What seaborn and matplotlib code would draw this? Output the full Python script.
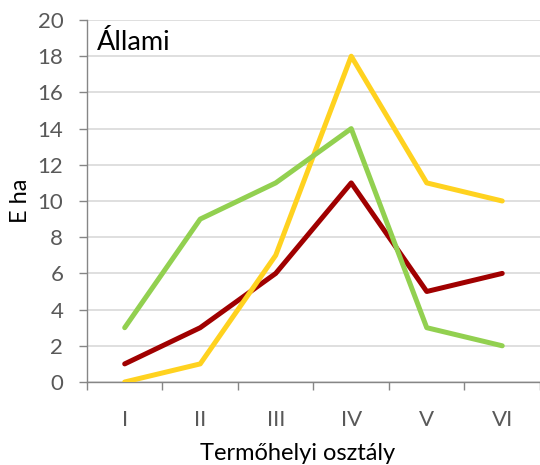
import numpy as np
import matplotlib.pyplot as plt
import pandas as pd
import seaborn as sns
from matplotlib.ticker import FixedLocator, MultipleLocator

# Data
categories = ["I", "II", "III", "IV", "V", "VI"]
red_vals = [1, 3, 6, 11, 5, 6]
yellow_vals = [0, 1, 7, 18, 11, 10]
green_vals = [3, 9, 11, 14, 3, 2]

df = pd.DataFrame({
    "pos": np.tile(np.arange(len(categories)), 3),
    "value": red_vals + yellow_vals + green_vals,
    "series": ["red"] * 6 + ["yellow"] * 6 + ["green"] * 6,
})

sns.set_style("white")
plt.rcParams["font.family"] = ["Lato", "DejaVu Sans"]

fig = plt.figure(figsize=(5.4, 4.65), dpi=100)
ax = fig.add_axes([0.161, 0.1785, 0.839, 0.7785])

palette = {"red": "#A00000", "yellow": "#FFD21F", "green": "#92D050"}
sns.lineplot(data=df, x="pos", y="value", hue="series", palette=palette,
             linewidth=3.6, legend=False, ax=ax, zorder=3)
for line in ax.get_lines():
    line.set_solid_capstyle("round")
    line.set_solid_joinstyle("round")

ax.set_xlim(-0.5, 5.5)
ax.set_ylim(0, 20)

# y axis
ax.yaxis.set_major_locator(MultipleLocator(2))
ax.grid(axis="y", color="#D9D9D9", linewidth=1.2, zorder=0)
ax.tick_params(axis="y", which="major", direction="out", length=6, width=1,
               color="#868686", labelsize=16, labelcolor="#595959", pad=11, left=True)

# x axis: ticks between categories, labels in the middle
ax.xaxis.set_major_locator(FixedLocator(np.arange(-0.5, 6, 1)))
ax.xaxis.set_minor_locator(FixedLocator(np.arange(len(categories))))
ax.set_xticklabels([])
ax.set_xticklabels(categories, minor=True)
ax.tick_params(axis="x", which="major", direction="out", length=6, width=1,
               color="#868686", bottom=True)
ax.tick_params(axis="x", which="minor", length=0, labelsize=16,
               labelcolor="#595959", pad=20)

for s in ["top", "right"]:
    ax.spines[s].set_visible(False)
for s in ["left", "bottom"]:
    ax.spines[s].set_color("#868686")
    ax.spines[s].set_linewidth(1)

ax.set_xlabel("Termőhelyi osztály", fontsize=17, color="black")
ax.xaxis.set_label_coords(0.464, -0.168)
ax.set_ylabel("E ha", fontsize=17, color="black", labelpad=5)
ax.text(0.022, 0.917, "Állami", transform=ax.transAxes, fontsize=19.5,
        va="baseline", ha="left", color="black")

fig.savefig("out.png", dpi=100)
